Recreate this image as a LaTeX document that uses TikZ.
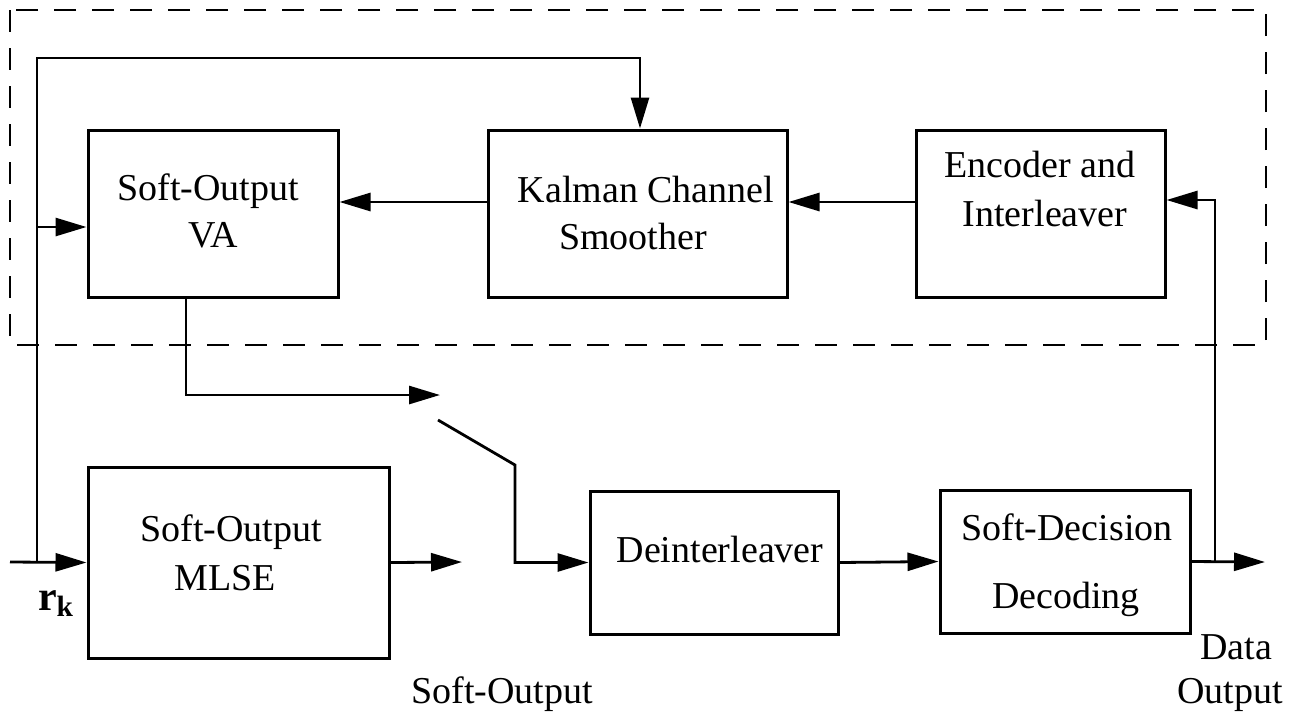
\documentclass[tikz,border=0pt]{standalone}
\usepackage{fontspec}
\setmainfont{Liberation Serif}
\usetikzlibrary{arrows.meta}
\begin{document}
\begin{tikzpicture}[x=0.5pt,y=-0.5pt,
  font=\fontsize{19}{22}\selectfont,
  line width=1.4pt,
  >={Triangle[length=15.5pt,width=9pt]},
  blk/.style={draw, line width=1.5pt, inner sep=0pt},
  lbl/.style={anchor=base, inner sep=0pt},
  frame/.style={line width=1.2pt, dash pattern=on 11pt off 8pt}]
\useasboundingbox (0,0) rectangle (1295,714);

% dashed enclosure of the iterative loop
\draw[frame] (10,10) rectangle (1266,345);

% blocks
\node[blk, minimum width=125pt,   minimum height=83.5pt] (va)   at (213,213.5)   {};
\node[blk, minimum width=149.5pt, minimum height=83.5pt] (kal)  at (637.5,213.5) {};
\node[blk, minimum width=124.5pt, minimum height=83.5pt] (enc)  at (1040.5,213.5) {};
\node[blk, minimum width=150.5pt, minimum height=95.5pt] (mlse) at (238.5,562.5) {};
\node[blk, minimum width=124pt,   minimum height=71.5pt] (dei)  at (714,562.5)   {};
\node[blk, minimum width=125pt,   minimum height=71.5pt] (dec)  at (1065,561.5)  {};

% block labels
\node[lbl] (vaA)   at (208,200)  {Soft-Output};
\node[lbl] (vaB)   at (213,247)  {VA};
\node[lbl] (kalA)  at (646,202)  {Kalman Channel};
\node[lbl] (kalB)  at (633,249)  {Smoother};
\node[lbl] (encA)  at (1040,177) {Encoder and};
\node[lbl] (encB)  at (1045,226) {Interleaver};
\node[lbl] (mlA)   at (231,541)  {Soft-Output};
\node[lbl] (mlB)   at (225,590)  {MLSE};
\node[lbl] (deiA)  at (720,562)  {Deinterleaver};
\node[lbl] (decA)  at (1067,540) {Soft-Decision};
\node[lbl] (decB)  at (1066,608) {Decoding};

% free labels
\node[lbl] (rk)    at (56,610)   {\fontsize{21}{25}\selectfont\textbf{r\textsubscript{k}}};
\node[lbl] (soft)  at (502,703)  {Soft-Output};
\node[lbl] (dataA) at (1236,659) {Data};
\node[lbl] (dataB) at (1230,703) {Output};

% connection points
\coordinate (in)  at (10,562);
\coordinate (jL)  at (37,562);
\coordinate (tl)  at (37,58);
\coordinate (jV)  at (37,227);
\coordinate (mo)  at (462,562);
\coordinate (swA) at (440,395);
\coordinate (swB) at (438,420);
\coordinate (swC) at (515,465);
\coordinate (jR)  at (1215,562);
\coordinate (out) at (1265,562);

% received signal and its branches
\draw[->] (in) -- (mlse.west);
\draw[->] (jL) -- (tl) -| ([xshift=1.25pt]kal.north);
\draw[->] (jV) -- (jV -| va.west);
\draw[->] (mlse.east) -- (mo);

% loop
\draw[->] ([yshift=5.75pt]kal.west) -- ([yshift=5.75pt]va.east);
\draw[->] ([yshift=5.75pt]enc.west) -- ([yshift=5.75pt]kal.east);
\draw[->] ([xshift=-13.5pt]va.south) |- (swA);

% switch and decoding chain
\draw[->] (swB) -- (swC) |- (dei.west);
\draw[->] (dei.east) -- (dec.west);
\draw[->] (dec.east) -- (out);
\draw[->] (jR) |- ([yshift=6.75pt]enc.east);
\end{tikzpicture}
\end{document}
